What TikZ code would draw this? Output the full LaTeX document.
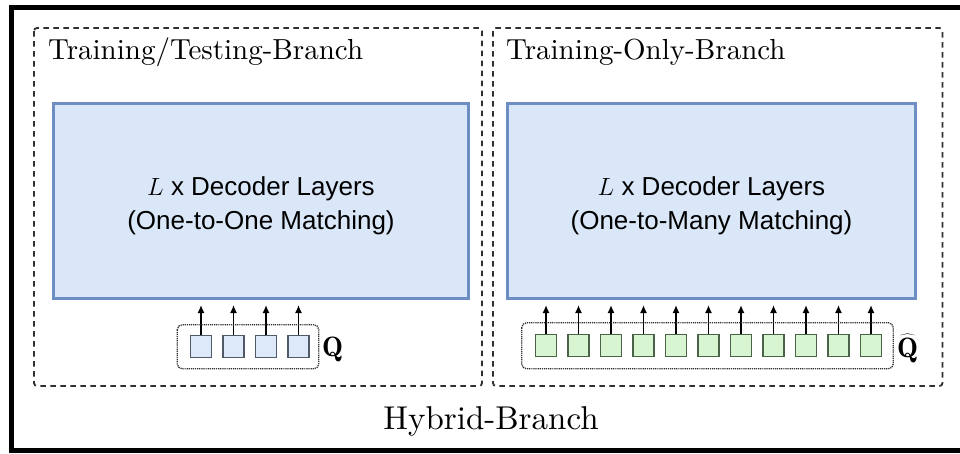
\documentclass[tikz,border=0pt]{standalone}
\usepackage{fontspec}
\setsansfont{Liberation Sans}
\newfontfamily\headfont{lmroman10-regular}[Extension=.otf]
\usetikzlibrary{arrows.meta}

\definecolor{layerfill}{HTML}{DAE7F8}
\definecolor{layerdraw}{HTML}{6C8EC2}
\definecolor{qfill}{HTML}{DDE8F8}
\definecolor{qdraw}{HTML}{4F5A66}
\definecolor{hfill}{HTML}{D6F5D0}
\definecolor{hdraw}{HTML}{4A6248}
\definecolor{linegray}{HTML}{303030}

\begin{document}
\begin{tikzpicture}[x=1pt,y=-1pt,
  branchbox/.style={draw=linegray, line width=1.8pt, dash pattern=on 5.5pt off 4.5pt, rounded corners=3pt},
  layerbox/.style={draw=layerdraw, fill=layerfill, line width=3pt, inner sep=0pt},
  querybox/.style={draw=linegray, line width=1.3pt, dash pattern=on 1.2pt off 0.9pt, rounded corners=5pt},
  cellbase/.style={line width=1.6pt, minimum width=21pt, minimum height=22pt, inner sep=0pt},
  qcell/.style={cellbase, draw=qdraw, fill=qfill},
  hcell/.style={cellbase, draw=hdraw, fill=hfill},
  title/.style={font=\headfont\fontsize{29}{31}\selectfont, inner sep=0pt},
  bigtitle/.style={font=\headfont\fontsize{33}{35}\selectfont, inner sep=0pt},
  layertext/.style={font=\sffamily\fontsize{26}{34}\selectfont, align=center, inner sep=0pt},
  qlabel/.style={font=\fontsize{28}{28}\selectfont, anchor=base west, inner sep=0pt},
  feed/.style={-{Latex[length=8pt,width=7pt]}, line width=1.5pt, black, shorten >=5.5pt}
]

\useasboundingbox (0,0) rectangle (960,453);

% outer frame, open past the right edge
\begin{scope}
  \clip (0,0) rectangle (960,453);
  \draw[line width=5pt] (11,7.5) rectangle (995,450.5);
\end{scope}

% branch outlines
\draw[branchbox] (34,28) rectangle (482,386);
\draw[branchbox] (493,28) rectangle (942.5,386);

\node[title, anchor=base west] (ttitle) at (48,59) {Training/Testing-Branch};
\node[title, anchor=base west] (otitle) at (506,59) {Training-Only-Branch};
\node[bigtitle, anchor=base] (htitle) at (491,429) {Hybrid-Branch};

% decoder stacks
\node[layerbox, minimum width=415pt, minimum height=195pt] (dec1) at (260.5,200.5) {};
\node[layerbox, minimum width=408pt, minimum height=195pt] (dec2) at (711.5,200.5) {};
\node[layertext] (dec1text) at (261,206) {$L$ x Decoder Layers\\(One-to-One Matching)};
\node[layertext] (dec2text) at (711.5,206) {$L$ x Decoder Layers\\(One-to-Many Matching)};

% one-to-one queries
\foreach \i in {0,...,3} {
  \node[qcell] (q\i) at (201+32.5*\i,346.5) {};
  \draw[feed] (q\i.north) -- (q\i.north |- dec1.south);
}
\draw[querybox] ([xshift=-12.5pt,yshift=10pt]q0.north west) rectangle ([xshift=9pt,yshift=-10.5pt]q3.south east);
\node[qlabel] (qlab) at (322,356) {$\mathbf{Q}$};

% one-to-many queries
\foreach \i in {0,...,10} {
  \node[hcell] (h\i) at (546+32.5*\i,345.5) {};
  \draw[feed] (h\i.north) -- (h\i.north |- dec2.south);
}
\draw[querybox] ([xshift=-13pt,yshift=11pt]h0.north west) rectangle ([xshift=11pt,yshift=-11.5pt]h10.south east);
\node[qlabel] (hlab) at (897,357) {$\widehat{\mathbf{Q}}$};

\end{tikzpicture}
\end{document}
